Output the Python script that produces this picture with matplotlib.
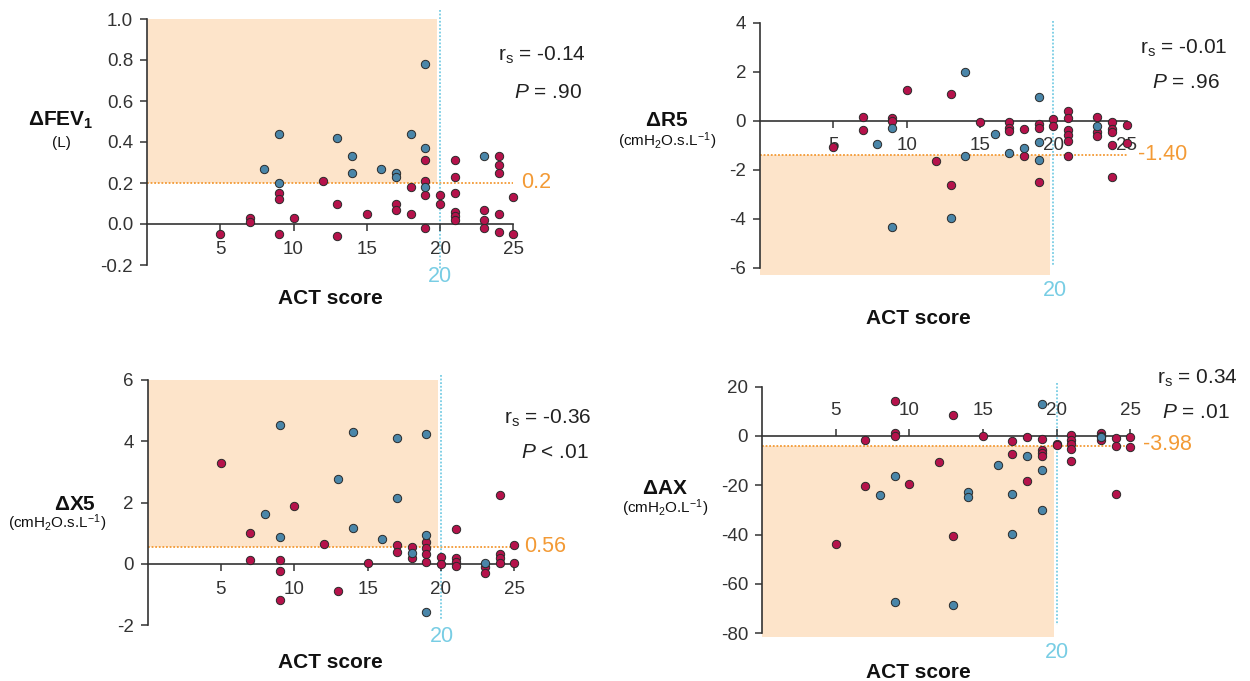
import numpy as np
import matplotlib.pyplot as plt

plt.rcParams['font.family'] = ['Liberation Sans', 'DejaVu Sans']
plt.rcParams['mathtext.fontset'] = 'custom'
plt.rcParams['mathtext.rm'] = 'Liberation Sans'
plt.rcParams['mathtext.it'] = 'Liberation Sans:italic'
plt.rcParams['mathtext.bf'] = 'Liberation Sans:bold'
plt.rcParams['axes.unicode_minus'] = False

# --- data (ACT score vs change) ---
act_ticks = [5, 10, 15, 20, 25]
act_cut = 20

fev_red_x = [5, 7, 7, 9, 9, 9, 10, 12, 13, 13, 15, 17, 17, 18, 18, 19, 19, 19, 19, 20, 20,
             21, 21, 21, 21, 21, 21, 23, 23, 23, 24, 24, 24, 24, 24, 25, 25]
fev_red_y = [-0.05, 0.03, 0.01, 0.15, 0.12, -0.05, 0.03, 0.21, 0.10, -0.06, 0.05, 0.10, 0.07, 0.18, 0.05,
             0.31, 0.21, 0.14, -0.02, 0.14, 0.10, 0.31, 0.23, 0.15, 0.06, 0.04, 0.02, 0.07, 0.02, -0.02,
             0.33, 0.29, 0.25, 0.05, -0.04, 0.13, -0.05]
fev_blue_x = [8, 9, 9, 13, 14, 14, 16, 17, 17, 18, 19, 19, 19, 23]
fev_blue_y = [0.27, 0.44, 0.20, 0.42, 0.33, 0.25, 0.27, 0.25, 0.23, 0.44, 0.78, 0.37, 0.18, 0.33]

r5_red_x = [5, 7, 7, 9, 9, 10, 12, 13, 13, 15, 17, 17, 17, 18, 18, 19, 19, 19, 20, 20,
            21, 21, 21, 21, 21, 21, 23, 23, 23, 24, 24, 24, 24, 24, 25, 25]
r5_red_y = [-1.06, 0.16, -0.38, 0.10, -0.01, 1.24, -1.66, 1.09, -2.62, -0.04, -0.04, -0.31, -0.41,
            -0.35, -1.44, -0.15, -0.31, -2.49, 0.06, -0.22, 0.40, 0.10, -0.38, -0.58, -0.83, -1.43,
            0.14, -0.45, -0.62, -0.04, -0.35, -0.47, -0.98, -2.31, -0.19, -0.90]
r5_blue_x = [8, 9, 9, 13, 14, 14, 16, 17, 18, 19, 19, 19, 23]
r5_blue_y = [-0.96, -0.31, -4.35, -3.96, 1.97, -1.44, -0.56, -1.30, -1.10, 0.98, -0.86, -1.60, -0.22]

x5_red_x = [5, 7, 7, 9, 9, 9, 10, 12, 13, 15, 17, 17, 18, 18, 19, 19, 19, 19, 20, 20,
            21, 21, 21, 21, 23, 23, 24, 24, 24, 24, 25, 25]
x5_red_y = [3.29, 1.02, 0.13, 0.13, -0.23, -1.17, 1.89, 0.66, -0.87, 0.02, 0.63, 0.39, 0.54, 0.20,
            0.72, 0.51, 0.34, 0.06, 0.24, 0.0, 1.13, 0.21, 0.05, -0.06, -0.09, -0.28, 2.25, 0.33,
            0.19, 0.04, 0.61, 0.04]
x5_blue_x = [8, 9, 9, 13, 14, 14, 16, 17, 17, 18, 19, 19, 19, 23]
x5_blue_y = [1.63, 4.53, 0.89, 2.76, 4.29, 1.18, 0.80, 4.10, 2.14, 0.37, 4.22, 0.93, -1.55, 0.04]

ax_red_x = [5, 7, 7, 9, 9, 9, 10, 12, 13, 13, 15, 17, 17, 18, 18, 19, 19, 19, 19, 20, 20,
            21, 21, 21, 21, 21, 23, 23, 23, 24, 24, 24, 25, 25]
ax_red_y = [-43.9, -1.8, -20.4, 14.2, 1.2, 0.1, -19.6, -10.4, 8.5, -40.4, 0.1, -2.0, -7.4, -0.3,
            -18.2, -1.4, -5.7, -7.0, -8.1, -3.2, -3.5, 0.3, -1.6, -3.2, -5.4, -10.1, 1.3, 0.0,
            -1.6, -0.9, -4.1, -23.4, -0.3, -4.5]
ax_blue_x = [8, 9, 9, 13, 14, 14, 16, 17, 17, 18, 19, 19, 19, 23]
ax_blue_y = [-23.9, -16.4, -67.5, -68.5, -22.8, -24.9, -11.6, -23.5, -39.7, -8.0, 12.8, -13.7, -30.0, -0.3]

thresholds = [0.2, -1.40, 0.56, -3.98]
threshold_labels = ['0.2', '-1.40', '0.56', '-3.98']
stats_r = ['-0.14', '-0.01', '-0.36', '0.34']
stats_p = ['= .90', '= .96', '< .01', '= .01']

# --- style ---
W, H = 1250, 681
RED = '#B5124B'
BLUE = '#4A86A9'
SHADE = '#FDE4CA'
ORANGE = '#F39A35'
CYAN = '#78CDE4'
INK = '#333333'

fig = plt.figure(figsize=(W / 100, H / 100), dpi=100)


def fig_text(x, y, s, **kw):
    fig.text(x / W, 1 - y / H, s, **kw)


def panel(x_zero, sx, y_zero, sy, ylim, yticks, ylabels, rx, ry, bx, by, thr, shade_above, vline_y, top_axis):
    xlim = (0, 26)
    left = x_zero + xlim[0] * sx
    right = x_zero + xlim[1] * sx
    top = y_zero - ylim[1] * sy
    bottom = y_zero - ylim[0] * sy
    ax = fig.add_axes([left / W, 1 - bottom / H, (right - left) / W, (bottom - top) / H])
    ax.set_xlim(xlim)
    ax.set_ylim(ylim)
    ax.patch.set_alpha(0)

    # shaded region left of the cut-off, beyond the threshold
    if shade_above:
        ax.fill_between([0, 19.8], thr, ylim[1], color=SHADE, lw=0, zorder=0)
    else:
        ax.fill_between([0, 19.8], ylim[0], thr, color=SHADE, lw=0, zorder=0)
    ax.plot([0, 25], [thr, thr], color=ORANGE, ls=(0, (1, 1)), lw=1.3, zorder=1, clip_on=False)
    ax.plot([act_cut, act_cut], vline_y, color=CYAN, ls=(0, (1, 1)), lw=1.3, zorder=1, clip_on=False)

    ax.scatter(rx, ry, s=36, color=RED, edgecolor='#2a2a2a', linewidth=0.7, zorder=3, clip_on=False)
    ax.scatter(bx, by, s=36, color=BLUE, edgecolor='#2a2a2a', linewidth=0.7, zorder=3, clip_on=False)

    for side in ['right', 'top', 'bottom']:
        ax.spines[side].set_visible(False)
    ax.spines['left'].set_bounds(yticks[0], yticks[-1])
    ax.spines['left'].set_color(INK)
    ax.spines['left'].set_linewidth(1.2)
    xs = 'top' if top_axis else 'bottom'
    ax.spines[xs].set_visible(True)
    ax.spines[xs].set_position(('data', 0))
    ax.spines[xs].set_bounds(0, 25)
    ax.spines[xs].set_color(INK)
    ax.spines[xs].set_linewidth(1.2)
    ax.spines[xs].set_zorder(2)
    if top_axis:
        ax.xaxis.tick_top()

    ax.set_xticks(act_ticks)
    ax.set_xticklabels([str(t) for t in act_ticks])
    ax.set_yticks(yticks)
    ax.set_yticklabels(ylabels)
    ax.tick_params(axis='both', length=5, width=1.1, color=INK, labelcolor=INK, labelsize=13.5)
    ax.tick_params(axis='x', pad=7)
    ax.tick_params(axis='y', pad=5)
    return ax


# --- panels ---
panel(147, 14.65, 224, 205, (-0.25, 1.0), [-0.2, 0, 0.2, 0.4, 0.6, 0.8, 1.0],
      ['-0.2', '0.0', '0.2', '0.4', '0.6', '0.8', '1.0'],
      fev_red_x, fev_red_y, fev_blue_x, fev_blue_y, thresholds[0], True, [1.044, -0.225], False)
panel(760, 14.67, 120.7, 24.5, (-6.3, 4.0), [-6, -4, -2, 0, 2, 4],
      ['-6', '-4', '-2', '0', '2', '4'],
      r5_red_x, r5_red_y, r5_blue_x, r5_blue_y, thresholds[1], False, [4.05, -5.9], False)
panel(147.6, 14.67, 564, 30.7, (-2.1, 6.0), [-2, 0, 2, 4, 6],
      ['-2', '0', '2', '4', '6'],
      x5_red_x, x5_red_y, x5_blue_x, x5_blue_y, thresholds[2], True, [6.15, -1.83], False)
panel(762, 14.73, 436, 2.466, (-81.4, 20), [-80, -60, -40, -20, 0, 20],
      ['-80', '-60', '-40', '-20', '0', '20'],
      ax_red_x, ax_red_y, ax_blue_x, ax_blue_y, thresholds[3], False, [21.5, -76.6], True)

# --- labels ---
ylab = [r'$\mathbf{\Delta FEV_1}$', r'$\mathbf{\Delta R5}$', r'$\mathbf{\Delta X5}$', r'$\mathbf{\Delta AX}$']
ylab_pos = [(61, 120), (667, 120), (75, 504), (665, 488)]
unit = ['(L)', r'(cmH$_2$O.s.L$^{-1}$)', r'(cmH$_2$O.s.L$^{-1}$)', r'(cmH$_2$O.L$^{-1}$)']
unit_pos = [(61, 143), (667, 141), (57, 523), (665, 508)]
xlab_pos = [(330, 298), (918, 318), (330, 663), (918, 672)]
cut_pos = [(440, 276), (1055, 290), (442, 637), (1057, 652)]
thr_pos = [(521, 183), (1138, 154), (524, 547), (1143, 445)]
r_pos = [(542, 55), (1184, 48), (548, 418), (1197, 378)]
p_pos = [(548, 92), (1186, 82), (555, 452), (1196, 412)]

for i in range(4):
    fig_text(*ylab_pos[i], ylab[i], fontsize=15, color='#111111', ha='center', va='center')
    fig_text(*unit_pos[i], unit[i], fontsize=11, color='#111111', ha='center', va='center')
    fig_text(*xlab_pos[i], 'ACT score', fontsize=15, fontweight='bold', color='#111111',
             ha='center', va='center')
    fig_text(*cut_pos[i], str(act_cut), fontsize=15.5, color=CYAN, ha='center', va='center')
    fig_text(*thr_pos[i], threshold_labels[i], fontsize=15.5, color=ORANGE, ha='left', va='center')
    fig_text(*r_pos[i], 'r$_\\mathrm{s}$ = ' + stats_r[i], fontsize=15, color='#222222',
             ha='center', va='center')
    fig_text(*p_pos[i], '$P$ ' + stats_p[i], fontsize=15, color='#222222', ha='center', va='center')

fig.savefig('out.png', dpi=100)
